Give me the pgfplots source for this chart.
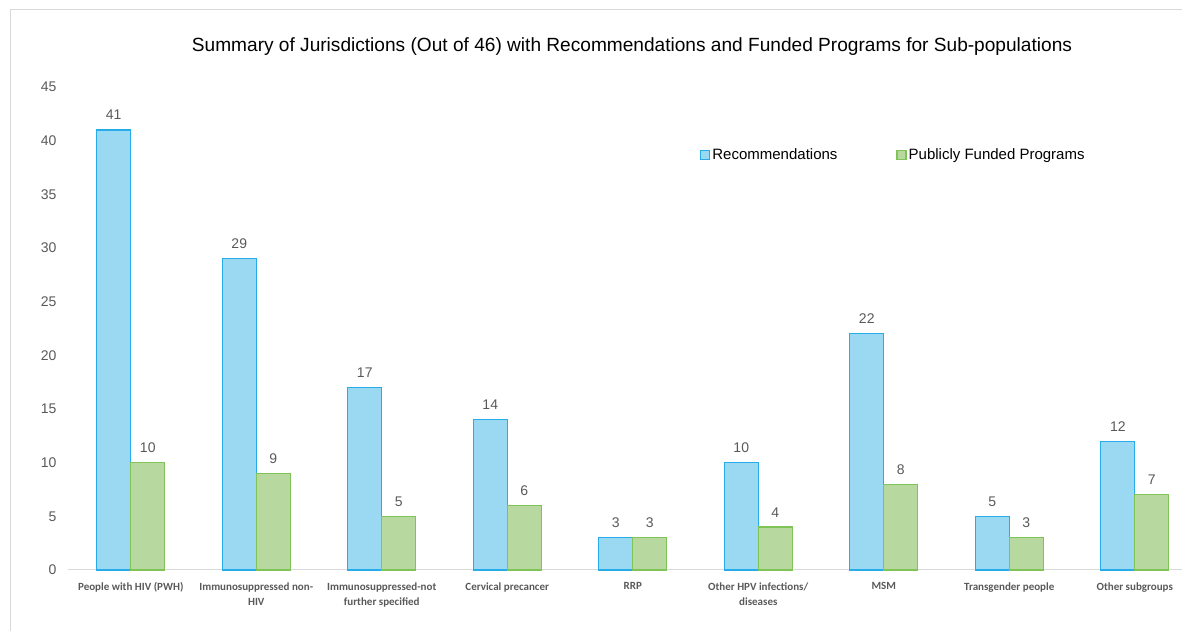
\documentclass[border=0pt]{standalone}
\usepackage{pgfplots}
\pgfplotsset{compat=1.18}
\usepackage{fontspec}
\setmainfont{Liberation Sans}
\newfontfamily\catfont{Carlito}
\definecolor{bfill}{RGB}{155,216,242}
\definecolor{bdraw}{RGB}{38,172,232}
\definecolor{gfill}{RGB}{183,216,158}
\definecolor{gdraw}{RGB}{128,196,88}
\definecolor{txt}{RGB}{89,89,89}
\definecolor{frame}{RGB}{217,217,217}
\begin{document}
\begin{tikzpicture}
\path[use as bounding box] (-68pt,-61pt) rectangle (1114pt,570pt);
\draw[frame, line width=1pt] (-57pt,-70pt) -- (-57pt,560pt) -- (1130pt,560pt);
\node[font=\fontsize{19.1}{22}\selectfont, text=black] at (564pt,523pt) {Summary of Jurisdictions (Out of 46) with Recommendations and Funded Programs for Sub-populations};
\begin{axis}[
  at={(0,0)}, anchor=south west,
  scale only axis, width=1114pt, height=483pt,
  xmin=-0.5, xmax=8.376, ymin=0, ymax=45,
  ytick={0,5,...,45},
  xtick={0,...,8},
  xticklabels={People with HIV (PWH),Immunosuppressed non-\\HIV,Immunosuppressed-not\\further specified,Cervical precancer,RRP,Other HPV infections/\\diseases,MSM,Transgender people,Other subgroups},
  xticklabel style={align=center, font=\catfont\fontsize{11}{15}\selectfont\bfseries, text=txt, yshift=-9pt},
  yticklabel style={font=\fontsize{14}{16}\selectfont, text=txt, xshift=-8pt},
  /pgf/number format/assume math mode=true,
  axis line style={draw=none},
  major tick length=0pt,
  ybar, bar width=34pt,
  clip=false,
  nodes near coords,
  every node near coord/.append style={font=\fontsize{14}{16}\selectfont, text=txt, yshift=6pt},
  legend style={at={(629pt,415pt)}, anchor=west, draw=none, fill=none, legend columns=2, font=\fontsize{15}{17}\selectfont, /tikz/every even column/.append style={column sep=57pt}},
  legend image code/.code={\draw[#1] (0pt,-4.5pt) rectangle (9pt,4.5pt);},
]
\draw[frame, line width=1pt] (axis cs:-0.5,0) -- (axis cs:8.376,0);
\addplot[fill=bfill, draw=bdraw, line width=1.2pt, bar shift=-17pt] coordinates {(0,41) (1,29) (2,17) (3,14) (4,3) (5,10) (6,22) (7,5) (8,12)};
\addlegendentry{Recommendations}
\addplot[fill=gfill, draw=gdraw, line width=1.2pt, bar shift=17pt] coordinates {(0,10) (1,9) (2,5) (3,6) (4,3) (5,4) (6,8) (7,3) (8,7)};
\addlegendentry{Publicly Funded Programs}
\end{axis}
\end{tikzpicture}
\end{document}
